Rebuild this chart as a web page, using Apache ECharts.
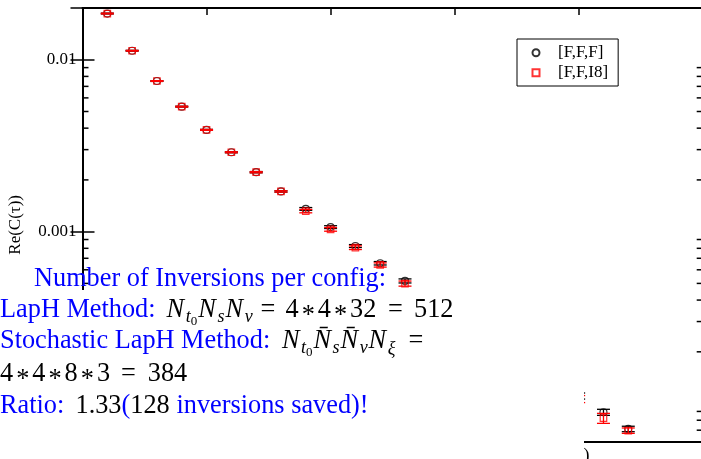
<!DOCTYPE html>
<html><head><meta charset="utf-8">
<script src="https://cdn.jsdelivr.net/npm/echarts@6/dist/echarts.min.js"></script>
<style>html,body{margin:0;padding:0;background:#fff}#c{width:701px;height:459px}</style>
</head><body><div id="c"></div>
<script>
// ---- data ----
const tau = [1, 2, 3, 4, 5, 6, 7, 8, 9, 10, 11, 12, 13, 20, 21, 22];
const cFFF  = [0.01857, 0.01128, 0.007521, 0.005336, 0.003908, 0.002897, 0.002218, 0.001714, 0.001356, 0.001063, 0.000825, 0.000655, 0.000517, 0.0001107, 0.0000890, 0.0000712];
const eFFF  = [0.0001, 0.00006, 0.00004, 0.00003, 0.000025, 0.00002, 0.000018, 0.000016, 0.000025, 0.00002, 0.000016, 0.000015, 0.000014, 0.0000045, 0.0000036, 0.0000026];
const cFFI8 = [0.01857, 0.01128, 0.007521, 0.005336, 0.003908, 0.002897, 0.002218, 0.001714, 0.001317, 0.001031, 0.000807, 0.000640, 0.000499, 0.0001063, 0.0000822, 0.0000696];
const eFFI8 = [0.0001, 0.00006, 0.00004, 0.00003, 0.000025, 0.00002, 0.000018, 0.000016, 0.00003, 0.000025, 0.00002, 0.000018, 0.000017, 0.000005, 0.0000055, 0.0000025];
const seriesNames = ['[F,F,F]', '[F,F,I8]'];
const yTickLabels = { '-4': '0.0001', '-3': '0.001', '-2': '0.01' };
const yMinorTicks = [7e-5, 8e-5, 9e-5, 2e-4, 3e-4, 4e-4, 5e-4, 6e-4, 7e-4, 8e-4, 9e-4, 2e-3, 3e-3, 4e-3, 5e-3, 6e-3, 7e-3, 8e-3, 9e-3];
const yAxisTitle = 'Re(C(τ))';

const BLACK = '#000000', RED = '#ff0000', BLUE = '#0000ff';
const SERIF = "'Liberation Serif', 'DejaVu Serif', serif";
const FS = 26.3;

// ---- helpers ----
const cv = document.createElement('canvas').getContext('2d');
function midOff(font) {
  cv.font = font; cv.textBaseline = 'alphabetic';
  const a = cv.measureText('Hxg').actualBoundingBoxAscent;
  cv.textBaseline = 'middle';
  const b = cv.measureText('Hxg').actualBoundingBoxAscent;
  cv.textBaseline = 'alphabetic';
  return a - b;
}
function layRuns(x0, base, list, out) {
  let x = x0;
  list.forEach(r => {
    if (typeof r === 'number') { x += r; return; }
    if (r.ax !== undefined) { x = r.ax; return; }
    const size = r.s || FS;
    const font = (r.i ? 'italic ' : '') + size + 'px ' + SERIF;
    cv.font = font;
    const w = cv.measureText(r.t).width;
    out.push({
      type: 'text', x: x, y: base + (r.dy || 0) - midOff(font), z: 200, silent: true,
      style: { text: r.t, font: font, fill: r.c || BLACK, align: 'left', verticalAlign: 'middle',
               textAlign: 'left', textVerticalAlign: 'middle' }
    });
    x += w;
  });
}

function errSeries(c, e, color, z) {
  return {
    type: 'custom', name: 'err' + z, silent: true, z: z,
    data: tau.map((t, i) => [t, c[i] - e[i], c[i] + e[i]]),
    renderItem(params, api) {
      const lo = api.coord([api.value(0), api.value(1)]);
      const hi = api.coord([api.value(0), api.value(2)]);
      const hw = 6.5, st = { stroke: color, lineWidth: 1.3 };
      return { type: 'group', children: [
        { type: 'line', shape: { x1: lo[0], y1: lo[1], x2: hi[0], y2: hi[1] }, style: st },
        { type: 'line', shape: { x1: lo[0] - hw, y1: lo[1], x2: lo[0] + hw, y2: lo[1] }, style: st },
        { type: 'line', shape: { x1: hi[0] - hw, y1: hi[1], x2: hi[0] + hw, y2: hi[1] }, style: st }
      ]};
    }
  };
}

// ---- annotation text ----
const texts = [];
const SUB = 18, SUB2 = 13;
const star = { t: '*', dy: 6 };
layRuns(34, 285.5, [{ t: 'Number of Inversions per config:', c: BLUE }], texts);
layRuns(0, 316.7, [
  { t: 'LapH Method:', c: BLUE }, { ax: 166.5 },
  { t: 'N', i: 1 }, 1.7, { t: 't', i: 1, s: SUB, dy: 5 }, { t: '0', s: SUB2, dy: 8.3 }, 1,
  { t: 'N', i: 1 }, 1.7, { t: 's', i: 1, s: SUB, dy: 5 }, 1,
  { t: 'N', i: 1 }, 1.7, { t: 'v', i: 1, s: SUB, dy: 5 },
  { ax: 260.5 }, { t: '=' }, { ax: 285.5 },
  { t: '4' }, 3, star, 3, { t: '4' }, 3, star, 3, { t: '32' },
  { ax: 388 }, { t: '=' }, { ax: 414 }, { t: '512' }
], texts);
layRuns(0, 348, [
  { t: 'Stochastic LapH Method:', c: BLUE }, { ax: 282 },
  { t: 'N', i: 1 }, 1.5, { t: 't', i: 1, s: SUB, dy: 5 }, { t: '0', s: SUB2, dy: 8.3 }, 1,
  { t: 'N\u0304', i: 1 }, 1.5, { t: 's', i: 1, s: SUB, dy: 5 }, 1,
  { t: 'N\u0304', i: 1 }, 1.5, { t: 'v', i: 1, s: SUB, dy: 5 }, 1,
  { t: 'N', i: 1 }, 1.5, { t: 'ξ', i: 1, s: SUB, dy: 6 },
  { ax: 408.5 }, { t: '=' }
], texts);
layRuns(0, 380.7, [
  { t: '4' }, 3, star, 3, { t: '4' }, 3, star, 3, { t: '8' }, 3, star, 3, { t: '3' },
  { ax: 121 }, { t: '=' }, { ax: 147.8 }, { t: '384' }
], texts);
layRuns(0, 413, [
  { t: 'Ratio:', c: BLUE }, { ax: 75.5 }, { t: '1.33' }, { t: '(', c: BLUE }, { t: '128' },
  { ax: 176.5 }, { t: 'inversions saved)!', c: BLUE }
], texts);
layRuns(583.5, 461, [{ t: ')', s: 18 }], texts);

// ---- chart ----
const chart = echarts.init(document.getElementById('c'), null, { renderer: 'canvas' });
const xCommon = {
  type: 'value', min: 0, max: 25, interval: 5,
  axisLine: { show: true, onZero: false, lineStyle: { color: BLACK, width: 2 } },
  axisTick: { show: true, inside: true, length: 7, lineStyle: { color: BLACK, width: 1.5 } },
  axisLabel: { show: false }, splitLine: { show: false }
};
const yCommon = {
  type: 'log', logBase: 10, min: 6e-5, max: 0.02,
  axisLine: { show: true, lineStyle: { color: BLACK, width: 2 } },
  axisTick: { show: true, inside: true, length: 12, lineStyle: { color: BLACK, width: 1.5 } },
  splitLine: { show: false }
};
const option = {
  animation: false,
  backgroundColor: '#fff',
  grid: { left: 82.5, top: 8, width: 620.2, height: 433.7, containLabel: false, outerBoundsMode: 'none' },
  xAxis: [
    Object.assign({}, xCommon, { position: 'bottom' }),
    Object.assign({}, xCommon, { position: 'top' })
  ],
  yAxis: [
    Object.assign({}, yCommon, {
      position: 'left',
      axisLabel: {
        show: true, fontSize: 17, margin: 6, showMinLabel: false, showMaxLabel: false,
        fontFamily: SERIF, color: BLACK,
        formatter: v => { const k = Math.round(Math.log10(v)); return Math.abs(v - Math.pow(10, k)) / v < 1e-6 ? (yTickLabels[k] || '') : ''; }
      },
      name: yAxisTitle, nameLocation: 'middle', nameGap: 58, nameMoveOverlap: false,
      nameTextStyle: { fontSize: 17, fontFamily: SERIF, color: BLACK }
    }),
    Object.assign({}, yCommon, { position: 'right', axisLabel: { show: false } })
  ],
  legend: {
    orient: 'vertical', left: 517, top: 39,
    data: seriesNames,
    itemWidth: 7, itemHeight: 7, itemGap: 3,
    padding: [5.2, 10, 4.8, 14.5],
    borderColor: BLACK, borderWidth: 1, backgroundColor: '#fff',
    formatter: name => '{sp|}' + name,
    textStyle: { fontFamily: SERIF, fontSize: 17, color: BLACK, rich: { sp: { width: 13.5 } } },
    selectedMode: false
  },
  series: [
    {
      type: 'custom', name: 'minor', silent: true, z: 2,
      data: yMinorTicks.map(v => [0, v]),
      renderItem(params, api) {
        const cs = params.coordSys;
        const y = api.coord([0, api.value(1)])[1];
        const st = { stroke: BLACK, lineWidth: 1.5 };
        return { type: 'group', children: [
          { type: 'line', shape: { x1: cs.x, y1: y, x2: cs.x + 6, y2: y }, style: st },
          { type: 'line', shape: { x1: cs.x + cs.width, y1: y, x2: cs.x + cs.width - 6, y2: y }, style: st }
        ]};
      }
    },
    errSeries(cFFF, eFFF, BLACK, 3),
    {
      type: 'scatter', name: seriesNames[0], z: 4,
      data: tau.map((t, i) => [t, cFFF[i]]),
      symbol: 'circle', symbolSize: 7,
      itemStyle: { color: 'rgba(255,255,255,0)', borderColor: BLACK, borderWidth: 1.2 }
    },
    errSeries(cFFI8, eFFI8, RED, 5),
    {
      type: 'scatter', name: seriesNames[1], z: 6,
      data: tau.map((t, i) => [t, cFFI8[i]]),
      symbol: 'rect', symbolSize: 6.5,
      itemStyle: { color: 'rgba(255,255,255,0)', borderColor: RED, borderWidth: 1.2 }
    }
  ],
  graphic: [
    { type: 'rect', z: 150, silent: true, shape: { x: 0, y: 290, width: 584, height: 169 }, style: { fill: '#fff' } }
  ].concat(texts)
};
chart.setOption(option);
</script>
</body></html>
